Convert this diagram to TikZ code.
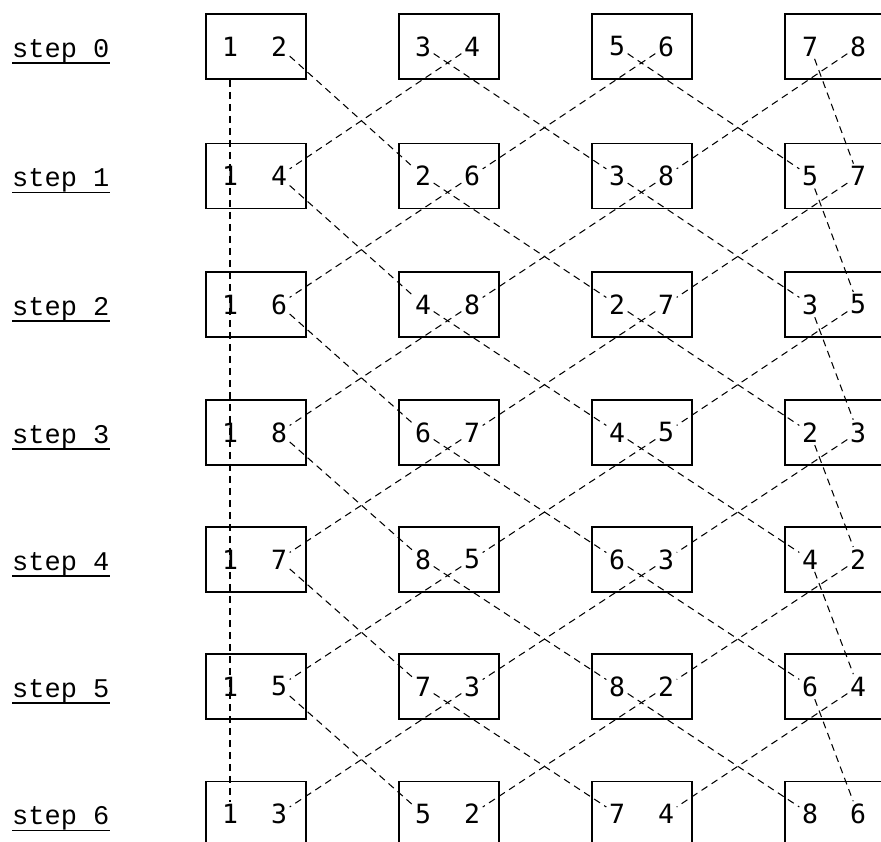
\documentclass[tikz,border=0pt]{standalone}
\usepackage{fontspec}
\newfontfamily\labfont{Liberation Mono}
\newfontfamily\numfont{DejaVu Sans Mono}
\begin{document}
\begin{tikzpicture}[x=1pt,y=-1pt,
  box/.style={draw, line width=1.6pt, minimum width=100pt, minimum height=65pt, inner sep=0pt},
  dig/.style={font=\numfont\fontsize{26.5}{26.5}\selectfont, inner sep=2.5pt},
  conn/.style={line width=1.05pt, dash pattern=on 7pt off 5pt},
  lab/.style={font=\labfont\fontsize{27}{27}\selectfont, inner sep=0pt, anchor=base west},
  uline/.style={line width=1.5pt}]
\useasboundingbox (0,0) rectangle (881,841);
\clip (0,0) rectangle (881,841);
\foreach \k/\y/\a/\b/\c/\d/\e/\f/\g/\h in {
  0/46.5/1/2/3/4/5/6/7/8,
  1/176/1/4/2/6/3/8/5/7,
  2/304.5/1/6/4/8/2/7/3/5,
  3/432.5/1/8/6/7/4/5/2/3,
  4/559.5/1/7/8/5/6/3/4/2,
  5/686.5/1/5/7/3/8/2/6/4,
  6/814/1/3/5/2/7/4/8/6}{
  \node[lab] (l-\k) at (12,\y+10.5) {step \k};
  \draw[uline] ([yshift=-6pt]l-\k.base west) -- ([yshift=-6pt]l-\k.base east);
  \node[box] (b-\k-0) at (256,\y) {};
  \node[box] (b-\k-1) at (449,\y) {};
  \node[box] (b-\k-2) at (642,\y) {};
  \node[box] (b-\k-3) at (835,\y) {};
  \node[dig] (d-\k-0-L) at (230,\y) {\a};
  \node[dig] (d-\k-0-R) at (279,\y) {\b};
  \node[dig] (d-\k-1-L) at (423,\y) {\c};
  \node[dig] (d-\k-1-R) at (472,\y) {\d};
  \node[dig] (d-\k-2-L) at (617,\y) {\e};
  \node[dig] (d-\k-2-R) at (666,\y) {\f};
  \node[dig] (d-\k-3-L) at (810,\y) {\g};
  \node[dig] (d-\k-3-R) at (858,\y) {\h};
}
\foreach \k in {0,...,5}{
  \pgfmathtruncatemacro\kn{\k+1}
  \draw[conn] (d-\k-0-R) -- (d-\kn-1-L);
  \draw[conn] (d-\k-1-L) -- (d-\kn-2-L);
  \draw[conn] (d-\k-1-R) -- (d-\kn-0-R);
  \draw[conn] (d-\k-2-L) -- (d-\kn-3-L);
  \draw[conn] (d-\k-2-R) -- (d-\kn-1-R);
  \draw[conn] (d-\k-3-L) -- (d-\kn-3-R);
  \draw[conn] (d-\k-3-R) -- (d-\kn-2-R);
}
\draw[conn] (d-0-0-L |- b-0-0.south) -- (d-6-0-L);
\end{tikzpicture}
\end{document}
